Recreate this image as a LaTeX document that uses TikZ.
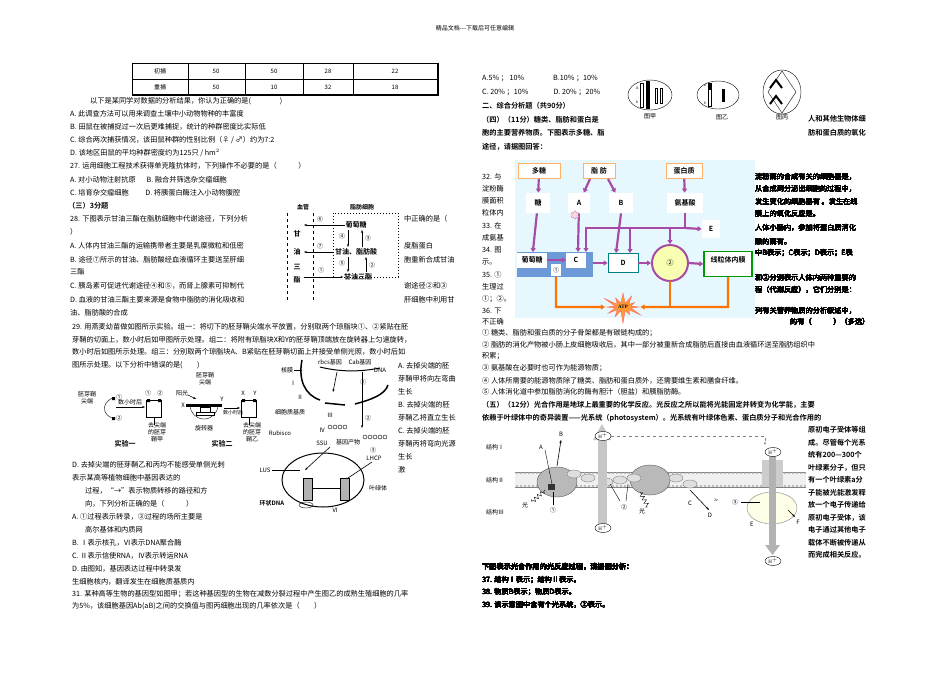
\documentclass[tikz,border=0pt]{standalone}
\usepackage{fontspec}
\setmainfont{Liberation Serif}
\newfontfamily\cjk{Noto Sans CJK SC}
\newfontfamily\cjkb{Noto Sans CJK SC Bold}
\usetikzlibrary{arrows.meta,shapes.geometric,shapes.misc,shapes.symbols,decorations.pathmorphing}
\newcommand{\T}[3]{\node[txt] at (#1,#2) {#3};}
\newcommand{\B}[3]{\node[txt,font=\cjkb\fontsize{7.2}{8}\selectfont] at (#1,#2) {#3};}
\begin{document}
\begin{tikzpicture}[x=1pt,y=-1pt,
 txt/.style={anchor=west,inner sep=0pt,font=\cjk\fontsize{7.2}{8}\selectfont},
 sm/.style={inner sep=0.5pt,font=\cjk\fontsize{6}{7}\selectfont},
 smb/.style={inner sep=0.5pt,font=\cjkb\fontsize{7}{8}\selectfont},
 arr/.style={-{Stealth[length=3pt]},line width=0.6pt},
 parr/.style={-{Triangle[length=4pt,width=5pt]},line width=2.2pt,draw=violet!70},
 pbox/.style={draw=orange!60,fill=white,line width=0.8pt,minimum height=15pt,inner sep=2pt,font=\cjkb\fontsize{7}{8}\selectfont},
 hp/.style={ellipse,draw,fill=white,inner sep=0.5pt,minimum width=16pt,font=\fontsize{5}{6}\selectfont}]
\useasboundingbox (0,0) rectangle (950,672);
\fill[white] (0,0) rectangle (950,672);
\node[sm] at (475,28) {精品文档---下载后可任意编辑};
% table
\draw[line width=0.5pt] (132,63) rectangle (438,95);
\draw (132,79)--(438,79);
\foreach \x in {188,245,303,353} \draw (\x,63)--(\x,95);
\draw[line width=1.2pt] (438,63)--(438,95)--(132,95);
\foreach \t/\x in {初捕/160,50/216,50/274,28/328,22/395} \node[sm] at (\x,71) {\t};
\foreach \t/\x in {重捕/160,50/216,10/274,32/328,18/395} \node[sm] at (\x,87) {\t};
% left column
\T{90}{101}{以下是某同学对数据的分析结果，你认为正确的是(\hspace{4em})}
\T{70}{114}{A. 此调查方法可以用来调查土壤中小动物物种的丰富度}
\T{70}{127}{B. 田鼠在被捕捉过一次后更难捕捉，统计的种群密度比实际低}
\T{70}{140}{C. 综合两次捕获情况，该田鼠种群的性别比例（♀ / ♂）约为7:2}
\T{70}{153}{D. 该地区田鼠的平均种群密度约为125只 / hm$^2$}
\T{70}{166}{27. 运用细胞工程技术获得单克隆抗体时，下列操作不必要的是（\hspace{3em}）}
\T{70}{180}{A. 对小动物注射抗原\hspace{1.5em}B. 融合并筛选杂交瘤细胞}
\T{70}{193}{C. 培育杂交瘤细胞\hspace{2.3em}D. 将胰蛋白酶注入小动物腹腔}
\B{68}{206}{（三）3分题}
\T{70}{219}{28. 下图表示甘油三酯在脂肪细胞中代谢途径，下列分析}
\T{70}{232}{）}
\T{70}{246}{A. 人体内甘油三酯的运输携带者主要是乳糜微粒和低密}
\T{70}{260}{B. 途径⑦所示的甘油、脂肪酸经血液循环主要送至肝细}
\T{70}{272}{三酯}
\T{70}{286}{C. 胰岛素可促进代谢途径④和⑤，而肾上腺素可抑制代}
\T{70}{300}{D. 血液的甘油三酯主要来源是食物中脂肪的消化吸收和}
\T{70}{313}{油、脂肪酸的合成}
\T{404}{219}{中正确的是（}
\T{404}{246}{度脂蛋白}
\T{404}{260}{胞重新合成甘油}
\T{404}{286}{谢途径②和③}
\T{404}{300}{肝细胞中利用甘}
% fat diagram
\draw[dashed,line width=0.8pt] (287,213)--(287,300) (313,213)--(313,300);
\draw[dotted,line width=1pt] (333,213) rectangle (398,277);
\node[smb,font=\cjkb\fontsize{6}{7}\selectfont] (xg) at (303,207) {血管};
\node[smb,font=\cjkb\fontsize{6}{7}\selectfont] (zf) at (362,207) {脂肪细胞};
\node[smb] (glu) at (356,225) {葡萄糖};
\node[smb] (gf) at (356,252) {甘油、脂肪酸};
\node[smb] (tg) at (358,277) {甘油三酯};
\foreach \t/\y in {甘/234,油/252,三/267,酯/280} \node[smb] at (297,\y) {\t};
\draw[arr] (glu.west)--(304,225); \node[sm] at (320,219) {⑥};
\draw[arr] (gf.west)--(304,252); \node[sm] at (320,246) {⑦};
\draw[arr] (304,277)--(tg.west); \node[sm] at (321,270) {①};
\draw[arr] (348,230)--(348,247); \node[sm] at (342,236) {④};
\draw[arr] (362,247)--(362,230); \node[sm] at (368,238) {③};
\draw[arr] (348,257)--(348,272); \node[sm] at (342,263) {⑤};
\draw[arr] (366,272)--(366,257); \node[sm] at (372,265) {②};
% 29
\T{72}{327}{29. 用燕麦幼苗做如图所示实验。组一：将切下的胚芽鞘尖端水平放置，分别取两个琼脂块①、②紧贴在胚}
\T{72}{340}{芽鞘的切面上，数小时后如甲图所示处理。组二：将附有琼脂块X和Y的胚芽鞘顶端放在旋转器上匀速旋转，}
\T{72}{352}{数小时后如图所示处理。组三：分别取两个琼脂块A、B紧贴在胚芽鞘切面上并接受单侧光照，数小时后如}
\T{72}{365}{图所示处理。以下分析中错误的是(\hspace{2em})}
\T{398}{366}{A. 去掉尖端的胚}
\T{398}{379}{芽鞘甲将向左弯曲}
\T{398}{392}{生长}
\T{398}{405}{B. 去掉尖端的胚}
\T{398}{418}{芽鞘乙将直立生长}
\T{398}{431}{C. 去掉尖端的胚}
\T{398}{444}{芽鞘丙将弯向光源}
\T{398}{457}{生长}
\T{398}{470}{激}
% experiment figures
\node[sm,align=center] (tip1) at (87,398) {胚芽鞘\\尖端};
\draw (112,398) .. controls (100,405) and (104,415) .. (112,418);
\fill (112,397) rectangle (115,400) (112,417) rectangle (115,420);
\node[sm] at (119,397) {①}; \node[sm] at (119,418) {②};
\draw[arr] (116,407)--(145,407); \node[sm] at (130,402) {数小时后};
\node[draw,minimum width=15pt,minimum height=17pt,inner sep=0] (box1) at (154,409) {};
\fill (147,399) rectangle (150,402) (158,399) rectangle (161,402);
\node[sm] at (148,393) {①}; \node[sm] at (160,393) {②};
\draw (154,417)--(154,425);
\node[sm,align=center] at (157,432) {去尖端\\的胚芽\\鞘甲};
\node[smb] at (125,444) {实验一};
\node[sm,align=center] at (205,379) {胚芽鞘\\尖端};
\draw (190,405) arc (180:0:14);
\fill (186,404) rectangle (222,407);
\draw (200,407) rectangle (210,412) (196,412) rectangle (214,415);
\node[sm] at (183,405) {X}; \node[sm] at (222,399) {Y};
\node[sm] at (182,393) {阳光}; \draw[arr] (188,395)--(196,399);
\node[sm] at (204,428) {旋转器};
\draw[arr] (224,408)--(240,408); \node[sm,font=\cjk\fontsize{5}{6}\selectfont] at (233,413) {数小时后};
\node[draw,minimum width=15pt,minimum height=17pt,inner sep=0] (box2) at (249,409) {};
\fill (242,399) rectangle (245,402) (253,399) rectangle (256,402);
\node[sm] at (243,393) {X}; \node[sm] at (255,393) {Y};
\draw (249,417)--(249,425);
\node[sm,align=center] at (252,432) {去尖端\\的胚芽\\鞘乙};
\node[smb] at (222,444) {实验二};
% gene diagram
\draw[line width=1.5pt] (302,360) .. controls (298,380) and (305,395) .. (320,400);
\draw[line width=1.5pt] (325,403) -- (345,405);
\draw[line width=1.5pt] (355,404) .. controls (370,400) and (385,395) .. (388,385);
\draw[line width=1pt] (320,367) .. controls (340,372) and (360,372) .. (380,368);
\node[sm] at (287,370) {核膜}; \draw (294,370)--(302,370);
\node[sm] at (330,362) {rbcs基因}; \node[sm] at (360,362) {Cab基因}; \node[sm] at (380,370) {DNA};
\node[sm] at (293,383) {Ⅰ}; \node[sm] at (300,397) {Ⅱ};
\node[sm] at (290,412) {细胞质基质};
\node[sm] at (363,382) {①}; \node[sm] at (368,418) {②};
\draw[arr] (337,372)--(333,392); \draw[arr] (362,372)--(362,428);
\node[sm] at (330,415) {Ⅲ}; \node[sm] at (322,430) {Ⅳ};
\foreach \i in {0,1,2,3} \draw (330+\i*5,427) circle (2pt);
\foreach \i in {0,1,2,3,4} \draw (365+\i*5,437) circle (2pt);
\node[sm] at (280,433) {Rubisco};
\node[sm] at (322,443) {SSU}; \node[sm] at (348,442) {基因产物};
\node[sm] at (373,450) {③}; \node[sm] at (374,458) {LHCP};
\draw[line width=1pt] (323,480) ellipse (41pt and 27pt);
\node[sm] at (265,470) {LUS}; \draw (272,470)--(300,470);
\draw[arr] (330,447)--(305,470); \draw[arr] (372,462)--(345,480);
\draw[fill=gray!60] (303,478) rectangle (312,500) (340,478) rectangle (349,500);
\draw (312,488)--(340,488); \draw (306,505) ellipse (7pt and 3pt);
\node[sm] at (378,488) {叶绿体};
\node[smb,font=\cjkb\fontsize{6}{7}\selectfont] at (272,503) {环状DNA};
\node[sm] at (335,510) {Ⅵ};
% 30 text
\T{72}{465}{D. 去掉尖端的胚芽鞘乙和丙均不能感受单侧光刺}
\T{72}{478}{表示某高等植物细胞中基因表达的}
\T{85}{491}{过程，“→”表示物质转移的路径和方}
\T{85}{504}{向，下列分析正确的是（\hspace{3em}）}
\T{72}{517}{A. ①过程表示转录，③过程的场所主要是}
\T{85}{530}{高尔基体和内质网}
\T{72}{543}{B. Ⅰ表示核孔，Ⅵ表示DNA聚合酶}
\T{72}{556}{C. Ⅱ表示信使RNA，Ⅳ表示转运RNA}
\T{72}{569}{D. 由图知，基因表达过程中转录发}
\T{72}{582}{生细胞核内，翻译发生在细胞质基质内}
\T{72}{594}{31. 某种高等生物的基因型如图甲；若这种基因型的生物在减数分裂过程中产生图乙的成熟生殖细胞的几率}
\T{72}{606}{为5\%，该细胞基因Ab(aB)之间的交换值与图丙细胞出现的几率依次是（\hspace{2em}）}
% right column
\T{482}{78}{A.5\% ；\ 10\%\hspace{4em}B.10\% ；10\%}
\T{482}{92}{C.\ 20\% ；10\%\hspace{3.5em}D.\ 20\% ；20\%}
\B{482}{106}{二、综合分析题（共90分）}
\B{482}{120}{（四）（11分）糖类、脂肪和蛋白是}
\B{482}{133}{胞的主要营养物质。下图表示多糖、脂}
\B{482}{147}{途径，请据图回答：}
\B{808}{119}{人和其他生物体细}
\B{808}{133}{肪和蛋白质的氧化}
% chromosome figures
\draw (650,95) ellipse (22pt and 15pt);
\draw (640,83) rectangle (643,107); \fill (646,81) rectangle (650,109);
\draw (655,88) rectangle (657,103); \draw (660,88) rectangle (662,103);
\node[sm,font=\fontsize{4}{5}\selectfont] at (637,88) {A}; \node[sm,font=\fontsize{4}{5}\selectfont] at (637,102) {b};
\node[sm] at (650,116) {图甲};
\draw (718,95) ellipse (21pt and 14pt);
\draw (708,83) rectangle (711,106); \fill (708,83) rectangle (711,90); \fill (722,89) rectangle (725,102);
\node[sm,font=\fontsize{4}{5}\selectfont] at (705,86) {a}; \node[sm,font=\fontsize{4}{5}\selectfont] at (705,103) {b};
\node[sm] at (722,117) {图乙};
\draw (782,92) ellipse (19pt and 22pt);
\draw (782,71)--(768,92)--(782,113) (782,71)--(796,92)--(782,113);
\draw[line width=2pt] (770,88)--(776,80)--(782,88) (770,104)--(776,96)--(782,104);
\node[sm] at (782,117) {图丙};
% left/right stubs
\foreach \t/\y in {32. 与/177,淀粉酶/189,膜面积/201,粒体内/213,33. 在/226,成氨基/238,34. 图/250,示。/262,35. ①/275,生理过/287,①；②。/299,36. 下/311,不正确/322} \T{482}{\y}{\t}
\T{755}{177}{淀粉酶的合成有关的细胞器是，}
\T{755}{189}{从合成到分泌出细胞的过程中，}
\T{755}{202}{发生变化的细胞器有\ 。发生在线}
\T{755}{214}{膜上的氧化反应是。}
\T{755}{228}{人体小肠内，参加将蛋白质消化}
\T{755}{242}{酸的酶有。}
\T{755}{253}{中B表示；C表示；D表示；E表}
\T{755}{278}{和②分别表示人体内两种重要的}
\T{755}{290}{程（代谢反应），它们分别是：}
\T{755}{311}{列有关营养物质的分析叙述中，}
\T{790}{322}{的有（\hspace{3em}）（多选）}
% metabolic diagram
\fill[cyan!10] (515,160) rectangle (755,318);
\node[pbox,minimum width=42pt] (dt) at (539,171) {多糖};
\node[pbox,minimum width=32pt] (zfang) at (599,171) {脂\ 肪};
\node[pbox,minimum width=36pt] (dbz) at (684,171) {蛋白质};
\node[pbox,draw=none,minimum width=24pt,minimum height=20pt] (tang) at (538,203) {糖};
\node[pbox,draw=none,minimum width=22pt,minimum height=20pt] (A) at (579,203) {A};
\node[pbox,draw=none,minimum width=24pt,minimum height=20pt] (B) at (621,203) {B};
\node[pbox,draw=none,minimum width=36pt,minimum height=20pt] (aa) at (685,203) {氨基酸};
\node[pbox,draw=none,minimum width=18pt,minimum height=18pt] (E) at (711,229) {E};
\fill[cyan!50!blue!60] (517,252) rectangle (593,277);
\node[pbox,draw=none,minimum width=30pt,fill=white] (ptt) at (532,260) {葡萄糖};
\node[pbox,draw=none,minimum width=20pt,fill=white] (C) at (576,260) {C};
\node[sm,fill=white,minimum width=10pt,minimum height=12pt] (c1) at (556,270) {①};
\node[pbox,draw=teal,minimum width=30pt,minimum height=19pt] (D) at (623,263) {D};
\node[circle,draw=violet!70,line width=2pt,fill=lime!30!yellow!30,minimum size=36pt,font=\cjk\fontsize{7}{8}\selectfont] (c2) at (670,263) {②};
\node[pbox,draw=green!60!black,line width=1.5pt,minimum width=48pt,minimum height=25pt,text depth=9pt] (xl) at (728,264) {线粒体内膜};
\node[starburst,starburst points=12,fill=orange!80,draw=red!60,inner sep=1pt,font=\fontsize{5}{6}\selectfont\bfseries] (atp) at (623,307) {ATP};
\draw[parr] (dt)--(tang); \draw[parr] (tang)--(ptt);
\draw[parr] (590,179)--(A); \draw[parr] (608,179)--(B); \draw[parr] (dbz)--(aa);
\draw[parr] (A)--(578,252); \draw[parr] (B.south)--(616,253);
\draw[parr] (aa.south)--(685,228)--(586,228)--(586,252);
\draw[parr] (630,228)--(630,253); \draw[parr] (670,228)--(670,244);
\draw[parr] (685,228)--(E.west);
\draw[parr] (547,260)--(566,260);
\draw[parr] (593,263)--(D.west); \draw[parr] (D.east)--(c2.west); \draw[parr] (c2.east)--(xl.west);
\draw[line width=2.2pt,draw=orange!90!red,-{Triangle[length=4pt,width=5pt]}] (556,277)--(556,307)--(atp.west);
\draw[line width=2.2pt,draw=orange!90!red,-{Triangle[length=4pt,width=5pt]}] (728,277)--(728,307)--(atp.east);
\draw[line width=2.2pt,draw=orange!90!red] (670,281)--(670,307);
\node[draw=violet!50,fill=pink!60,star,star points=6,inner sep=2pt] (sp) at (575,215) {};
% statements
\T{482}{333}{① 糖类、脂肪和蛋白质的分子骨架都是有碳链构成的；}
\T{482}{345}{② 脂肪的消化产物被小肠上皮细胞吸收后，其中一部分被重新合成脂肪后直接由血液循环送至脂肪组织中}
\T{482}{356}{积累；}
\T{482}{368}{③ 氨基酸在必要时也可作为能源物质；}
\T{482}{381}{④ 人体所需要的能源物质除了糖类、脂肪和蛋白质外，还需要维生素和膳食纤维。}
\T{482}{392}{⑤ 人体消化道中参加脂肪消化的酶有胆汁（胆盐）和胰脂肪酶。}
\B{482}{405}{（五）（12分）光合作用是地球上最重要的化学反应。光反应之所以能将光能固定并转变为化学能，主要}
\B{482}{418}{依赖于叶绿体中的奇异装置——光系统（photosystem）。光系统有叶绿体色素、蛋白质分子和光合作用的}
\foreach \t/\y in {原初电子受体等组/430,成。尽管每个光系/443,统有200—300个/455,叶绿素分子，但只/468,有一个叶绿素a分/480,子能被光能激发释/493,放一个电子传递给/505,原初电子受体，该/518,电子通过其他电子/530,载体不断被传递从/543,而完成相关反应。/555} \B{808}{\y}{\t}
\B{482}{567}{下图表示光合作用的光反应过程，请据图分析：}
\T{482}{580}{37. 结构Ⅰ表示；结构Ⅱ表示。}
\T{482}{592}{38. 物质B表示；物质D表示。}
\T{482}{605}{39. 该示意图中含有个光系统，②表示。}
% photosynthesis diagram
\fill[gray!12] (515,472) rectangle (806,487);
\draw[gray] (515,472)--(806,472) (515,487)--(806,487);
\foreach \x in {517,521,...,805} {\draw[gray!70] (\x,473) circle (0.9pt) (\x,486) circle (0.9pt);}
\node[sm] at (495,447) {结构Ⅰ}; \node[sm] at (495,480) {结构Ⅱ}; \node[sm] at (495,512) {结构Ⅲ};
\node[ellipse,fill=gray!55,draw=gray!70!black,minimum width=40pt,minimum height=30pt] (ps1) at (557,482) {};
\node[ellipse,fill=gray!55,draw=gray!70!black,minimum width=40pt,minimum height=30pt] (ps2) at (650,480) {};
\foreach \x/\y in {574/474,588/478,606/482,620/480,634/478,676/478,690/484} \node[ellipse,fill=gray!25,draw=gray,minimum width=14pt,minimum height=8pt,inner sep=0] at (\x,\y) {};
\fill[gray!40!black] (548,484) rectangle (555,490);
\fill[gray!45] (598,436) rectangle (607,525);
\fill[gray!45] (593,440)--(602,424)--(611,440)--cycle;
\node[hp] (h1) at (603,436) {H$^+$}; \node[hp] (h2) at (603,528) {H$^+$};
\node[ellipse,fill=yellow!10,draw=gray,minimum width=50pt,minimum height=32pt] (atps) at (772,508) {};
\fill[gray!40] (762,460) rectangle (783,487);
\fill[gray!60] (769,455) rectangle (776,545);
\fill[gray!60] (765,545)--(772.5,555)--(780,545)--cycle;
\node[hp] (h3) at (773,452) {H$^+$}; \node[hp] (h4) at (773,561) {H$^+$};
\draw[dashed,gray,-{Stealth[length=3pt]}] (h1.east)--(765,436)--(765,445);
\node[sm] (lB) at (561,434) {B}; \draw[arr] (557,466)--(561,440);
\node[sm] (lA) at (541,447) {A}; \draw (545,450)--(552,484);
\node[sm] (g1) at (525,505) {光}; \draw[decorate,decoration={zigzag,segment length=4pt,amplitude=2pt}] (532,502)--(545,490);
\node[sm] at (553,510) {①}; \draw (553,505)--(553,492);
\node[sm] at (624,507) {②}; \draw (620,501)--(610,484) (626,501)--(628,484);
\node[sm] at (642,511) {光}; \draw[decorate,decoration={zigzag,segment length=4pt,amplitude=2pt}] (648,507)--(640,492);
\node[sm] at (690,503) {C}; \node[sm,font=\fontsize{4}{5}\selectfont] at (716,500) {2e};
\node[sm] (lD) at (710,515) {D}; \draw[arr] (690,490)--(709,510);
\node[sm] at (735,502) {③}; \draw (741,502)--(760,502);
\node[sm] at (752,524) {E}; \node[sm] at (798,522) {F}; \draw[arr] (788,510)--(795,517);
\end{tikzpicture}
\end{document}
